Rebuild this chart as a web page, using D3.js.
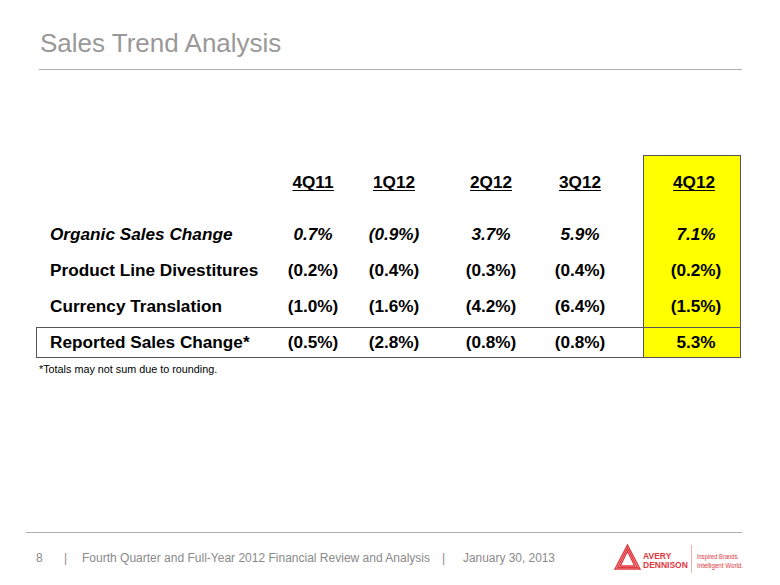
<!DOCTYPE html>
<html>
<head>
<meta charset="utf-8">
<script src="https://cdn.jsdelivr.net/npm/d3@7"></script>
<style>
  html, body { margin: 0; padding: 0; background: #fff; }
  svg { display: block; }
</style>
</head>
<body>
<svg id="chart" width="780" height="585"></svg>
<script>
const title = "Sales Trend Analysis";
const quarters = ["4Q11", "1Q12", "2Q12", "3Q12", "4Q12"];
const rowLabels = ["Organic Sales Change", "Product Line Divestitures", "Currency Translation", "Reported Sales Change*"];
const organicSales = ["0.7%", "(0.9%)", "3.7%", "5.9%", "7.1%"];
const divestitures = ["(0.2%)", "(0.4%)", "(0.3%)", "(0.4%)", "(0.2%)"];
const currency = ["(1.0%)", "(1.6%)", "(4.2%)", "(6.4%)", "(1.5%)"];
const reported = ["(0.5%)", "(2.8%)", "(0.8%)", "(0.8%)", "5.3%"];
const footnote = "*Totals may not sum due to rounding.";
const footerPage = "8";
const footerTitle = "Fourth Quarter and Full-Year 2012 Financial Review and Analysis";
const footerDate = "January 30, 2013";

const rows = [organicSales, divestitures, currency, reported];

const svg = d3.select("#chart");
const FONT = "'Liberation Sans', Arial, Helvetica, sans-serif";

// Title
svg.append("text").attr("x", 40).attr("y", 52)
  .attr("font-family", FONT).attr("font-size", 26).attr("fill", "#999")
  .text(title);
svg.append("line").attr("x1", 39).attr("x2", 742).attr("y1", 69.5).attr("y2", 69.5)
  .attr("stroke", "#b0b0b0").attr("stroke-width", 1);

// Scales
const x = d3.scaleOrdinal().domain(quarters).range([313, 394, 491, 580, 694]);
const y = d3.scalePoint().domain(rowLabels).range([234, 342]);
const headerY = 182;

// Highlight column (last quarter)
svg.append("rect").attr("x", 643.5).attr("y", 155.5).attr("width", 97).attr("height", 202)
  .attr("fill", "#ffff00").attr("stroke", "#555").attr("stroke-width", 1);

// Reported row box
svg.append("rect").attr("x", 36.5).attr("y", 327.5).attr("width", 704).attr("height", 30)
  .attr("fill", "none").attr("stroke", "#555").attr("stroke-width", 1);
svg.append("line").attr("x1", 643.5).attr("x2", 643.5).attr("y1", 155.5).attr("y2", 357.5).attr("stroke", "#555");

// Header
const hdr = svg.append("g");
quarters.forEach(q => {
  const t = hdr.append("text").attr("x", x(q)).attr("y", headerY + 6)
    .attr("text-anchor", "middle").attr("font-family", FONT)
    .attr("font-size", 17.2).attr("font-weight", "bold").attr("fill", "#000").text(q);
  const bb = t.node().getBBox();
  hdr.append("line").attr("x1", bb.x).attr("x2", bb.x + bb.width)
    .attr("y1", headerY + 8.5).attr("y2", headerY + 8.5)
    .attr("stroke", "#000").attr("stroke-width", 1.2);
});

// Row labels and values
rowLabels.forEach((lab, i) => {
  svg.append("text").attr("x", 50).attr("y", y(lab) + 6)
    .attr("font-family", FONT).attr("font-size", 17.2).attr("font-weight", "bold")
    .attr("font-style", i === 0 ? "italic" : "normal").attr("fill", "#000").text(lab);
  rows[i].forEach((v, j) => {
    svg.append("text").attr("x", x(quarters[j]) + (j === 4 ? 2 : 0)).attr("y", y(lab) + 6)
      .attr("text-anchor", "middle").attr("font-family", FONT).attr("font-size", 17.2)
      .attr("font-weight", "bold").attr("font-style", i === 0 ? "italic" : "normal")
      .attr("fill", "#000").text(v);
  });
});

// Footnote
svg.append("text").attr("x", 39).attr("y", 373)
  .attr("font-family", FONT).attr("font-size", 10.8).attr("fill", "#000").text(footnote);

// Footer
svg.append("line").attr("x1", 26).attr("x2", 742).attr("y1", 532.5).attr("y2", 532.5)
  .attr("stroke", "#b0b0b0").attr("stroke-width", 1);
const fy = 562;
const fg = svg.append("g").attr("font-family", FONT).attr("font-size", 12).attr("fill", "#8a8a8a");
fg.append("text").attr("x", 36).attr("y", fy).text(footerPage);
fg.append("text").attr("x", 64).attr("y", fy).text("|");
fg.append("text").attr("x", 82).attr("y", fy).attr("textLength", 348).attr("lengthAdjust", "spacingAndGlyphs").text(footerTitle);
fg.append("text").attr("x", 442).attr("y", fy).text("|");
fg.append("text").attr("x", 463).attr("y", fy).attr("textLength", 92).attr("lengthAdjust", "spacingAndGlyphs").text(footerDate);

// Logo
const red = "#e0383e";
const logo = svg.append("g").attr("transform", "translate(615,545)");
[0, 3, 6].forEach(o => {
  logo.append("path")
    .attr("d", `M${12.5},${o} L${25 - o * 0.87},${24 - o * 0.5} L${o * 0.87},${24 - o * 0.5} Z`)
    .attr("fill", "none").attr("stroke", red).attr("stroke-width", 1.4);
});
logo.append("text").attr("x", 28).attr("y", 14).attr("font-family", FONT).attr("font-size", 8.5)
  .attr("font-weight", "bold").attr("fill", red).text("AVERY");
logo.append("text").attr("x", 28).attr("y", 23).attr("font-family", FONT).attr("font-size", 8.5)
  .attr("font-weight", "bold").attr("fill", red).text("DENNISON");
logo.append("line").attr("x1", 76.5).attr("x2", 76.5).attr("y1", 0).attr("y2", 28)
  .attr("stroke", "#f0b0b0").attr("stroke-width", 1);
logo.append("text").attr("x", 82).attr("y", 14).attr("font-family", FONT).attr("font-size", 7.5)
  .attr("fill", red).attr("textLength", 42).attr("lengthAdjust", "spacingAndGlyphs").text("Inspired Brands.");
logo.append("text").attr("x", 82).attr("y", 22.5).attr("font-family", FONT).attr("font-size", 7.5)
  .attr("fill", red).attr("textLength", 46).attr("lengthAdjust", "spacingAndGlyphs").text("Intelligent World.");
</script>
</body>
</html>
